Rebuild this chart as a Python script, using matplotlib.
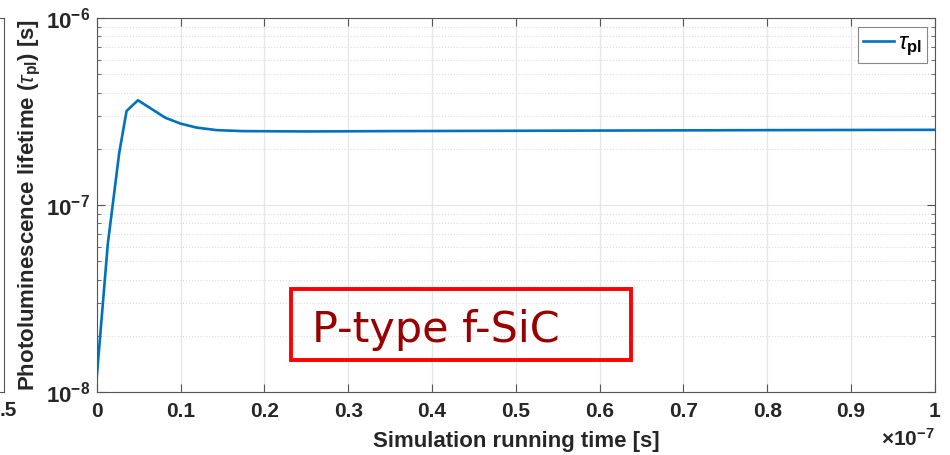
import math
import matplotlib
matplotlib.use("Agg")
import matplotlib.pyplot as plt
from matplotlib.ticker import FixedLocator, FuncFormatter, LogLocator, NullFormatter
from matplotlib.patches import Rectangle

plt.rcParams['font.family'] = ['Liberation Sans', 'DejaVu Sans']
plt.rcParams['mathtext.fontset'] = 'custom'
plt.rcParams['mathtext.rm'] = 'Liberation Sans:bold'
plt.rcParams['mathtext.bf'] = 'Liberation Sans:bold'
plt.rcParams['mathtext.it'] = 'Liberation Sans:italic'

# simulation time (units of 1e-7 s) and PL lifetime (s)
time_e7 = [0.0, 0.013, 0.0266, 0.0354, 0.049, 0.082, 0.100, 0.119, 0.143,
           0.174, 0.25, 0.35, 0.5, 0.65, 0.8, 1.0]
tau_pl = [1.23e-8, 6.2e-8, 1.90e-7, 3.19e-7, 3.64e-7, 2.93e-7, 2.73e-7, 2.60e-7,
          2.52e-7, 2.49e-7, 2.48e-7, 2.49e-7, 2.50e-7, 2.51e-7, 2.52e-7, 2.53e-7]
xticks = [0, 0.1, 0.2, 0.3, 0.4, 0.5, 0.6, 0.7, 0.8, 0.9, 1]
xtick_labels = ['0', '0.1', '0.2', '0.3', '0.4', '0.5', '0.6', '0.7', '0.8', '0.9', '1']

fig = plt.figure(figsize=(9.5, 4.55), dpi=100)

# fragment of the neighbouring panel on the left edge
axl = fig.add_axes([-0.3, 0.138, 0.3043, 0.822])
axl.set_xlim(0, 1.5)
axl.set_xticks([])
axl.set_yticks([])
for s in axl.spines.values():
    s.set_color('#555555')
fig.text(0.0, 0.098, '.5', ha='left', va='center', fontsize=15, fontweight='bold', color='#262626')

ax = fig.add_axes([0.102, 0.138, 0.882, 0.822])
ax.plot(time_e7, tau_pl, color='#0072BD', lw=1.9, label=r'$\mathit{\tau}_{\mathbf{pl}}$')
ax.set_yscale('log')
ax.set_xlim(0, 1)
ax.set_ylim(1e-8, 1e-6)

ax.xaxis.set_major_locator(FixedLocator(xticks))
ax.set_xticklabels(xtick_labels)
ax.yaxis.set_major_locator(FixedLocator([1e-8, 1e-7, 1e-6]))
ax.yaxis.set_major_formatter(FuncFormatter(lambda v, p: r'$\mathbf{10^{%d}}$' % round(math.log10(v))))
ax.yaxis.set_minor_locator(LogLocator(base=10, subs=range(2, 10)))
ax.yaxis.set_minor_formatter(NullFormatter())

ax.tick_params(which='both', direction='in', top=True, right=True, colors='#555555',
               labelcolor='#262626')
ax.tick_params(axis='x', labelsize=15, pad=7)
ax.tick_params(axis='y', labelsize=16, pad=5)
ax.tick_params(which='major', length=6)
ax.tick_params(which='minor', length=3)
for lbl in ax.get_xticklabels():
    lbl.set_fontweight('bold')
for s in ax.spines.values():
    s.set_color('#555555')

ax.grid(True, which='major', color='#e6e6e6', lw=0.9)
ax.grid(True, which='minor', axis='y', color='#dddddd', ls=':', lw=0.8)
ax.set_axisbelow(True)

ax.set_xlabel('Simulation running time [s]', fontsize=16, fontweight='bold', color='#262626', labelpad=7)
ax.set_ylabel(r'Photoluminescence lifetime ($\mathit{\tau}_{\mathbf{pl}}$) [s]', fontsize=16,
              fontweight='bold', color='#262626', labelpad=2)
ax.text(1.0, -0.095, r'$\times\mathbf{10^{-7}}$', transform=ax.transAxes, ha='right', va='top',
        fontsize=15, color='#262626')

leg = ax.legend(loc='upper right', fontsize=17, handlelength=1.3, handletextpad=0.2,
                borderpad=0.2, borderaxespad=0.0, fancybox=False, edgecolor='#888888',
                framealpha=1, bbox_to_anchor=(0.991, 0.976))
leg.get_frame().set_linewidth(0.8)

ax.add_patch(Rectangle((0.232, 0.085), 0.406, 0.19, transform=ax.transAxes, fill=False,
                       edgecolor='#ff0000', lw=2.8, zorder=5))
ax.text(0.257, 0.135, 'P-type f-SiC', transform=ax.transAxes, fontsize=31,
        family='DejaVu Sans', color='#990000', zorder=6)

fig.savefig('out.png', dpi=100)
